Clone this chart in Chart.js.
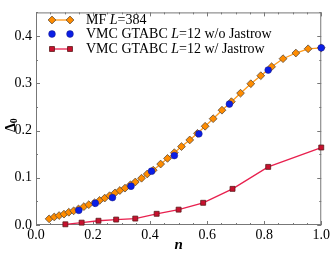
<!DOCTYPE html>
<html>
<head>
<meta charset="utf-8">
<script src="https://cdn.jsdelivr.net/npm/chart.js@4/dist/chart.umd.min.js"></script>
<style>
  html, body { margin: 0; padding: 0; background: #fff; }
  #wrap { width: 332px; height: 257px; }
</style>
</head>
<body>
<div id="wrap"><canvas id="chart" width="332" height="257"></canvas></div>
<script>
// MF L=384
const nMF = [0.046, 0.064, 0.081, 0.098, 0.115, 0.132, 0.149, 0.168, 0.185, 0.205,
             0.223, 0.241, 0.258, 0.277, 0.294, 0.312, 0.331, 0.348, 0.370, 0.390,
             0.411, 0.437, 0.461, 0.485, 0.510, 0.539, 0.566, 0.593, 0.621, 0.652,
             0.685, 0.717, 0.753, 0.788, 0.826, 0.866, 0.911, 0.954, 1.000];
const deltaMF = [0.013, 0.017, 0.020, 0.023, 0.027, 0.030, 0.034, 0.039, 0.043, 0.047,
                 0.052, 0.057, 0.062, 0.068, 0.073, 0.078, 0.085, 0.091, 0.099, 0.108,
                 0.116, 0.129, 0.141, 0.153, 0.166, 0.180, 0.194, 0.209, 0.225, 0.243,
                 0.261, 0.279, 0.299, 0.316, 0.335, 0.352, 0.364, 0.373, 0.375];

// VMC GTABC L=12 w/o Jastrow
const nNoJ = [0.150, 0.208, 0.268, 0.333, 0.405, 0.485, 0.571, 0.678, 0.814, 1.000];
const deltaNoJ = [0.031, 0.046, 0.058, 0.082, 0.114, 0.147, 0.193, 0.256, 0.328, 0.375];

// VMC GTABC L=12 w/ Jastrow
const nJ = [0.103, 0.160, 0.219, 0.281, 0.348, 0.423, 0.500, 0.586, 0.689, 0.814, 1.000];
const deltaJ = [0.0015, 0.005, 0.009, 0.0115, 0.0136, 0.0237, 0.0325, 0.047, 0.0765, 0.123, 0.164];

const xTicks = [0.0, 0.2, 0.4, 0.6, 0.8, 1.0];
const yTicks = [0.0, 0.1, 0.2, 0.3, 0.4];
const xMinorStep = 0.05;
const yMinorStep = 0.05;

const serif = "'Liberation Serif', 'DejaVu Serif', serif";

function pts(xs, ys) {
    return xs.map((x, i) => ({ x: x, y: ys[i] }));
}

// frame with inward ticks, like the original plot
const framePlugin = {
    id: 'frame',
    beforeDatasetsDraw(chart) {
        const { ctx, chartArea: a, scales } = chart;
        ctx.save();
        ctx.strokeStyle = '#777';
        ctx.lineWidth = 1;
        ctx.strokeRect(a.left + 0.5, a.top + 0.5, a.right - a.left - 1, a.bottom - a.top - 1);
        ctx.beginPath();
        for (let v = 0; v <= 1.0001; v += xMinorStep) {
            const px = Math.round(scales.x.getPixelForValue(v)) + 0.5;
            const major = xTicks.some(t => Math.abs(t - v) < 1e-6);
            const len = major ? 4 : 2;
            ctx.moveTo(px, a.bottom);
            ctx.lineTo(px, a.bottom - len);
            ctx.moveTo(px, a.top);
            ctx.lineTo(px, a.top + len);
        }
        for (let v = 0; v <= 0.45001; v += yMinorStep) {
            const py = Math.round(scales.y.getPixelForValue(v)) + 0.5;
            const major = yTicks.some(t => Math.abs(t - v) < 1e-6);
            const len = major ? 4 : 2;
            ctx.moveTo(a.left, py);
            ctx.lineTo(a.left + len, py);
            ctx.moveTo(a.right, py);
            ctx.lineTo(a.right - len, py);
        }
        ctx.stroke();
        ctx.restore();
    }
};

// legend and axis titles (italic L, subscript 0)
const labelPlugin = {
    id: 'labels',
    afterDraw(chart) {
        const { ctx, chartArea: a } = chart;
        ctx.save();
        ctx.textBaseline = 'middle';
        const rows = [
            { ds: 0, y: 20, parts: [['MF ', false], ['L', true], ['=384', false]] },
            { ds: 1, y: 34, parts: [['VMC GTABC ', false], ['L', true], ['=12 w/o Jastrow', false]] },
            { ds: 2, y: 49, parts: [['VMC GTABC ', false], ['L', true], ['=12 w/ Jastrow', false]] }
        ];
        rows.forEach(r => {
            const ds = chart.data.datasets[r.ds];
            const x1 = 52, x2 = 70;
            if (ds.showLine !== false) {
                ctx.strokeStyle = ds.borderColor;
                ctx.lineWidth = ds.borderWidth;
                ctx.beginPath();
                ctx.moveTo(x1, r.y);
                ctx.lineTo(x2, r.y);
                ctx.stroke();
            }
            const opts = {
                pointStyle: ds.pointStyle,
                radius: ds.pointRadius,
                borderWidth: ds.pointBorderWidth,
                rotation: 0
            };
            [x1, x2].forEach(px => {
                ctx.fillStyle = ds.pointBackgroundColor;
                ctx.strokeStyle = ds.pointBorderColor;
                ctx.lineWidth = ds.pointBorderWidth;
                Chart.helpers.drawPoint(ctx, opts, px, r.y);
            });
            let tx = 86;
            ctx.fillStyle = '#000';
            ctx.textAlign = 'left';
            r.parts.forEach(([s, it]) => {
                ctx.font = (it ? 'italic ' : '') + '14px ' + serif;
                ctx.fillText(s, tx, r.y);
                tx += ctx.measureText(s).width;
            });
        });

        // x title
        ctx.font = 'italic bold 15px ' + serif;
        ctx.textAlign = 'center';
        ctx.fillText('n', (a.left + a.right) / 2, 245);

        // y title
        ctx.translate(11, (a.top + a.bottom) / 2 + 6);
        ctx.rotate(-Math.PI / 2);
        ctx.textAlign = 'left';
        ctx.font = 'bold 14px ' + serif;
        const w = ctx.measureText('\u0394').width;
        ctx.fillText('\u0394', -w / 2 - 3, 0);
        ctx.font = 'bold 10px ' + serif;
        ctx.fillText('0', w / 2 - 3, 3);
        ctx.restore();
    }
};

new Chart(document.getElementById('chart'), {
    type: 'scatter',
    data: {
        datasets: [
            {
                label: 'MF L=384',
                data: pts(nMF, deltaMF),
                showLine: true,
                borderColor: '#ff9a1a',
                borderWidth: 1.3,
                pointStyle: 'rectRot',
                pointRadius: 3.9,
                pointBackgroundColor: '#ff8c00',
                pointBorderColor: '#5a4a3a',
                pointBorderWidth: 0.8,
                order: 2,
                clip: false
            },
            {
                label: 'VMC GTABC L=12 w/o Jastrow',
                data: pts(nNoJ, deltaNoJ),
                showLine: false,
                pointStyle: 'circle',
                pointRadius: 3.4,
                pointBackgroundColor: '#0a1ee6',
                pointBorderColor: '#1a1a80',
                pointBorderWidth: 0.5,
                order: 1,
                clip: false
            },
            {
                label: 'VMC GTABC L=12 w/ Jastrow',
                data: pts(nJ, deltaJ),
                showLine: true,
                borderColor: '#e8204e',
                borderWidth: 1.3,
                pointStyle: 'rect',
                pointRadius: 3.5,
                pointBackgroundColor: '#c8102e',
                pointBorderColor: '#5a1a1a',
                pointBorderWidth: 0.8,
                order: 0,
                clip: false
            }
        ]
    },
    options: {
        responsive: false,
        animation: false,
        layout: { padding: { top: 3, right: 10, left: 0, bottom: 0 } },
        plugins: {
            legend: { display: false },
            tooltip: { enabled: false }
        },
        scales: {
            x: {
                type: 'linear',
                min: 0,
                max: 1,
                grid: { display: false, drawTicks: false },
                border: { display: false },
                afterBuildTicks: s => { s.ticks = xTicks.map(v => ({ value: v })); },
                afterFit: s => { s.height = 32; },
                ticks: {
                    padding: 2,
                    color: '#000',
                    font: { family: serif, size: 14 },
                    maxRotation: 0,
                    autoSkip: false,
                    callback: v => v.toFixed(1)
                }
            },
            y: {
                type: 'linear',
                min: 0,
                max: 0.45,
                grid: { display: false, drawTicks: false },
                border: { display: false },
                afterBuildTicks: s => { s.ticks = yTicks.map(v => ({ value: v })); },
                afterFit: s => { s.width = 36; },
                ticks: {
                    padding: 4,
                    color: '#000',
                    font: { family: serif, size: 14 },
                    autoSkip: false,
                    callback: v => v.toFixed(1)
                }
            }
        }
    },
    plugins: [framePlugin, labelPlugin]
});
</script>
</body>
</html>
